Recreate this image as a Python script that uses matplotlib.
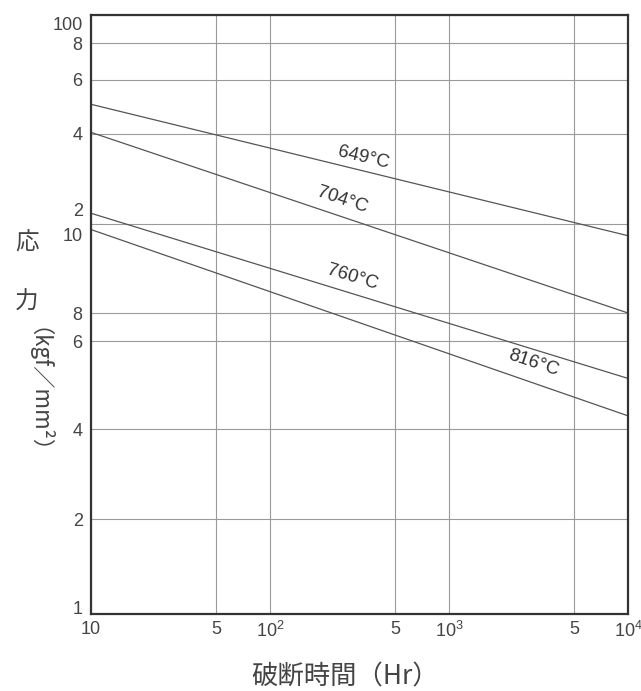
import numpy as np
import matplotlib
matplotlib.use('Agg')
import matplotlib.pyplot as plt
import matplotlib.transforms as mtransforms
from matplotlib.ticker import FixedLocator, FixedFormatter, NullLocator

plt.rcParams['font.family'] = ['Liberation Sans', 'Noto Sans CJK JP', 'DejaVu Sans']
plt.rcParams['mathtext.fontset'] = 'custom'
plt.rcParams['mathtext.rm'] = 'Liberation Sans'

# rupture time (Hr) at both ends of each line
hours = [10, 10000]
s649 = [50.0, 9.7]
s704 = [40.5, 8.0]
s760 = [21.5, 5.05]
s816 = [9.85, 4.25]

temps = ['649°C', '704°C', '760°C', '816°C']
# label anchors (Hr, stress) and text angle
lab_x = [331, 252, 287, 2944]
lab_y = [33.1, 23.9, 8.75, 5.42]
lab_rot = [-13.5, -18.5, -17, -18.5]

xticks = [10, 50, 100, 500, 1000, 5000, 10000]
xlabels = ['10', '5', '$10^2$', '5', '$10^3$', '5', '$10^4$']
yticks = [1, 2, 4, 6, 8, 10, 40, 60, 80, 100]
ylabels = ['1', '2', '4', '6', '8', '2\n10', '4', '6', '8', '100']

# the printed stress axis is not a clean log axis: piecewise in log space
knot_vals = np.log10([1, 2, 4, 6, 8, 10, 20, 40, 60, 80, 100])
knot_pos = np.array([0, 95, 185, 273, 301, 390.5, 391.5, 480, 534, 571, 599])

def fwd(v):
    v = np.clip(np.asarray(v, dtype=float), 1e-6, None)
    return np.interp(np.log10(v), knot_vals, knot_pos)

def inv(p):
    return 10 ** np.interp(p, knot_pos, knot_vals)

fig = plt.figure(figsize=(6.41, 6.91), dpi=100)
fig.patch.set_facecolor('white')
ax = fig.add_axes([91/641, 1 - 614/691, 537/641, 599/691])

ax.set_xscale('log')
ax.set_yscale('function', functions=(fwd, inv))
ax.set_xlim(10, 10000)
ax.set_ylim(1, 100)

ax.xaxis.set_major_locator(FixedLocator(xticks))
ax.xaxis.set_major_formatter(FixedFormatter(xlabels))
ax.xaxis.set_minor_locator(NullLocator())
ax.yaxis.set_major_locator(FixedLocator(yticks))
ax.yaxis.set_major_formatter(FixedFormatter(ylabels))
ax.yaxis.set_minor_locator(NullLocator())

ax.grid(True, color='#9a9a9a', linewidth=0.8)
ax.set_axisbelow(True)
ax.tick_params(length=0, labelsize=13, colors='#444444')
ax.tick_params(axis='y', pad=6)
ax.tick_params(axis='x', pad=5)

# end labels sit a little inside the frame in the original
shift = {'1': 7, '100': -8, '2\n10': 5}
for t in ax.get_yticklabels():
    t.set_linespacing(1.6)
    if t.get_text() in shift:
        dy = shift[t.get_text()] / 100
        t.set_transform(t.get_transform() + mtransforms.ScaledTranslation(0, dy, fig.dpi_scale_trans))

for sp in ax.spines.values():
    sp.set_color('#333333')
    sp.set_linewidth(1.6)

for s in [s649, s704, s760, s816]:
    ax.plot(hours, s, color='#555555', linewidth=0.9)

for name, x, y, r in zip(temps, lab_x, lab_y, lab_rot):
    ax.text(x, y, name, rotation=r, rotation_mode='anchor', ha='center', va='center',
            fontsize=13.5, color='#333333')

cjk = ['Noto Sans CJK JP', 'DejaVu Sans']
fig.text(27/641, 1 - 243/691, '応', family=cjk, fontsize=17, color='#444444', ha='center', va='center')
fig.text(27/641, 1 - 302/691, '力', family=cjk, fontsize=17, color='#444444', ha='center', va='center')
fig.text(27/641, 1 - 402/691, '（kgf／mm²）', family=cjk, fontsize=16, color='#444444',
         rotation=270, ha='center', va='center')
fig.text(345/641, 1 - 677/691, '破断時間（Hr）', family=cjk, fontsize=19, color='#444444',
         ha='center', va='center')

fig.savefig('out.png', dpi=100, facecolor='white')
